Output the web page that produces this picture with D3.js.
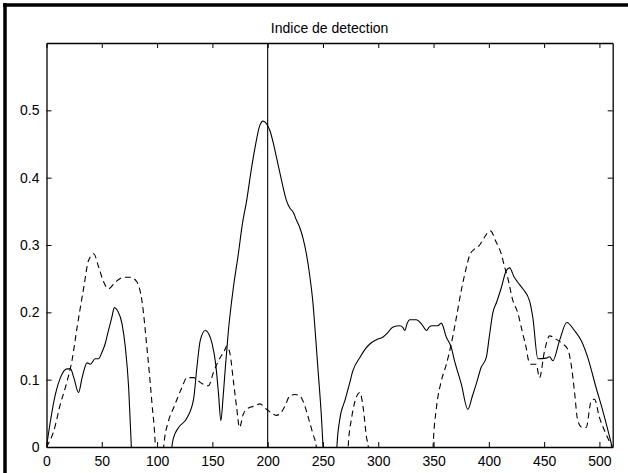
<!DOCTYPE html>
<html>
<head>
<meta charset="utf-8">
<script src="https://cdn.jsdelivr.net/npm/d3@7"></script>
<style>
  html, body { margin: 0; padding: 0; background: #fff; }
  svg { display: block; }
  text { font-family: "Liberation Sans", Arial, Helvetica, sans-serif; fill: #000; }
</style>
</head>
<body>
<svg id="chart" width="628" height="473"></svg>
<script>
const title = "Indice de detection";
const xTicks = [0, 50, 100, 150, 200, 250, 300, 350, 400, 450, 500];
const yTicks = [0, 0.1, 0.2, 0.3, 0.4, 0.5];
const yTickLabels = ["0", "0.1", "0.2", "0.3", "0.4", "0.5"];
const xDomain = [0, 512];
const yDomain = [0, 0.6];
const markerX = 200;

const solidX = [0, 3.6, 8, 12.6, 18.7, 21.7, 24.7, 29, 32.2, 36.7, 39.7, 44, 47, 50, 53, 56, 59, 61.4, 64.4, 68.3, 71.3, 74.3, 76.7, 78,
  112, 113.4, 114.8, 119, 127, 133, 136, 139, 143.5, 147, 149.8, 153, 155.5, 157.7, 159.5, 161.5, 164.5, 169, 173.5, 177, 181, 185, 188.6, 193, 195.8, 198, 202, 205, 208, 212, 217, 220, 223, 226, 229, 232, 235, 238, 241, 243.5, 245.6, 248.8, 250, 251,
  262, 262.6, 265, 270, 274, 277, 283.4, 288, 292.4, 298, 304, 308.7, 313, 319.5, 322, 324, 326, 328.5, 334.5, 339, 343.8, 346, 349, 353.8, 357, 361.6, 366, 369, 375, 381, 385, 388.7, 393, 397.7, 400.5, 403.7, 407, 411, 415.8, 418.8, 423, 426, 430.7, 436.8, 439.8, 444.3, 451.8, 455, 457.8, 463.9, 470.5, 477.4, 483.5, 489.4, 497, 503, 511.5];
const solidY = [0, 0.039, 0.078, 0.103, 0.116, 0.116, 0.103, 0.081, 0.103, 0.125, 0.123, 0.131, 0.131, 0.140, 0.153, 0.173, 0.192, 0.207, 0.202, 0.183, 0.148, 0.088, 0, -0.05,
  -0.05, 0, 0.013, 0.028, 0.043, 0.071, 0.118, 0.158, 0.173, 0.167, 0.153, 0.123, 0.08, 0.039, 0.07, 0.113, 0.173, 0.237, 0.287, 0.33, 0.366, 0.41, 0.445, 0.478, 0.484, 0.482, 0.470, 0.452, 0.43, 0.40, 0.366, 0.355, 0.349, 0.337, 0.326, 0.31, 0.287, 0.255, 0.213, 0.16, 0.113, 0.039, 0, -0.05,
  -0.05, 0, 0.039, 0.07, 0.094, 0.113, 0.133, 0.145, 0.153, 0.159, 0.163, 0.170, 0.178, 0.180, 0.178, 0.173, 0.183, 0.189, 0.189, 0.183, 0.173, 0.178, 0.180, 0.180, 0.184, 0.163, 0.148, 0.128, 0.094, 0.056, 0.075, 0.094, 0.118, 0.133, 0.165, 0.2, 0.215, 0.235, 0.262, 0.266, 0.252, 0.245, 0.235, 0.217, 0.192, 0.131, 0.132, 0.134, 0.128, 0.158, 0.185, 0.173, 0.158, 0.133, 0.088, 0.054, 0];

const dashedX = [0, 6.6, 12.6, 18.7, 23, 27.7, 33.7, 38, 42.7, 47.2, 51.7, 56, 62.3, 69.8, 75.8, 81.8, 86.3, 90.8, 95.4, 98.4, 99.5,
  105, 105.9, 110.4, 114.9, 122.4, 127, 133, 139, 142, 146.5, 151, 155.5, 161.5, 163, 166, 169, 172, 174.5, 178, 182.6, 188.6, 193, 199, 205, 208, 211, 215.7, 220, 224.7, 229, 232, 236.7, 241, 244, 245,
  272, 272.8, 276, 279, 283.4, 286.4, 289.4, 291, 292,
  349, 349.6, 352.6, 357, 361.6, 366, 370.6, 375, 379.7, 382.7, 387, 391.7, 395, 401.3, 406.7, 411.2, 414, 417, 421.8, 426, 430.7, 433.7, 436, 438.3, 442.8, 445.8, 450.4, 454.9, 460.9, 466.9, 471.4, 474.4, 477.4, 480.4, 484.3, 488, 492.5, 495.5, 500, 506, 511.5];
const dashedY = [0, 0.024, 0.064, 0.098, 0.128, 0.178, 0.237, 0.277, 0.287, 0.267, 0.245, 0.235, 0.245, 0.252, 0.252, 0.245, 0.217, 0.148, 0.064, 0, -0.05,
  -0.05, 0, 0.039, 0.058, 0.088, 0.103, 0.103, 0.096, 0.093, 0.091, 0.111, 0.128, 0.145, 0.150, 0.138, 0.098, 0.058, 0.029, 0.049, 0.058, 0.061, 0.064, 0.056, 0.049, 0.047, 0.049, 0.061, 0.076, 0.078, 0.076, 0.068, 0.044, 0.019, 0, -0.05,
  -0.05, 0, 0.044, 0.068, 0.081, 0.058, 0.014, 0, -0.05,
  -0.05, 0, 0.058, 0.098, 0.123, 0.153, 0.192, 0.232, 0.267, 0.285, 0.294, 0.30, 0.309, 0.321, 0.304, 0.287, 0.269, 0.252, 0.217, 0.2, 0.168, 0.148, 0.128, 0.123, 0.123, 0.103, 0.143, 0.165, 0.16, 0.153, 0.145, 0.123, 0.083, 0.039, 0.029, 0.029, 0.068, 0.071, 0.044, 0.019, 0];

const svg = d3.select("#chart");
const L = 46.5, R = 612.7, T = 43, B = 447;

// outer frame (left and top edges)
svg.append("line").attr("x1", 5).attr("y1", 3).attr("x2", 5).attr("y2", 473)
  .attr("stroke", "#000").attr("stroke-width", 3.5);
svg.append("line").attr("x1", 3).attr("y1", 5).attr("x2", 628).attr("y2", 5)
  .attr("stroke", "#000").attr("stroke-width", 3.5);

const x = d3.scaleLinear().domain(xDomain).range([L, R]);
const y = d3.scaleLinear().domain(yDomain).range([B, T]);

svg.append("defs").append("clipPath").attr("id", "clip")
  .append("rect").attr("x", L).attr("y", T).attr("width", R - L).attr("height", B - T);

const g = svg.append("g").attr("clip-path", "url(#clip)");
const line = d3.line().x(d => x(d[0])).y(d => y(d[1])).curve(d3.curveMonotoneX);

g.append("path").datum(d3.zip(solidX, solidY)).attr("d", line)
  .attr("fill", "none").attr("stroke", "#000").attr("stroke-width", 1.1);
g.append("path").datum(d3.zip(dashedX, dashedY)).attr("d", line)
  .attr("fill", "none").attr("stroke", "#000").attr("stroke-width", 1.1)
  .attr("stroke-dasharray", "6,4");

// marker line
svg.append("line").attr("x1", x(markerX)).attr("x2", x(markerX))
  .attr("y1", y(yDomain[1])).attr("y2", y(0)).attr("stroke", "#000").attr("stroke-width", 1.1);

// axes
const tickLen = 5;
const xb = d3.axisBottom(x).tickValues(xTicks).tickSizeInner(-tickLen).tickSizeOuter(0).tickPadding(9);
const xt = d3.axisTop(x).tickValues(xTicks).tickSizeInner(-tickLen).tickSizeOuter(0).tickFormat("");
const yl = d3.axisLeft(y).tickValues(yTicks).tickSizeInner(-tickLen).tickSizeOuter(0).tickPadding(7)
  .tickFormat((d, i) => yTickLabels[i]);
const yr = d3.axisRight(y).tickValues(yTicks).tickSizeInner(-tickLen).tickSizeOuter(0).tickFormat("");

function style(sel) {
  sel.selectAll("path.domain").attr("stroke", "#000").attr("stroke-width", 1.3);
  sel.selectAll(".tick line").attr("stroke", "#000").attr("stroke-width", 1);
  sel.selectAll(".tick text").attr("font-size", 14).attr("font-family", '"Liberation Sans", Arial, sans-serif').attr("fill", "#000");
}
svg.append("g").attr("transform", `translate(0,${B})`).call(xb).call(style);
svg.append("g").attr("transform", `translate(0,${T})`).call(xt).call(style);
svg.append("g").attr("transform", `translate(${L},0)`).call(yl).call(style);
svg.append("g").attr("transform", `translate(${R},0)`).call(yr).call(style);

svg.append("text").attr("x", (L + R) / 2).attr("y", 33).attr("text-anchor", "middle")
  .attr("font-size", 14).text(title);
</script>
</body>
</html>
